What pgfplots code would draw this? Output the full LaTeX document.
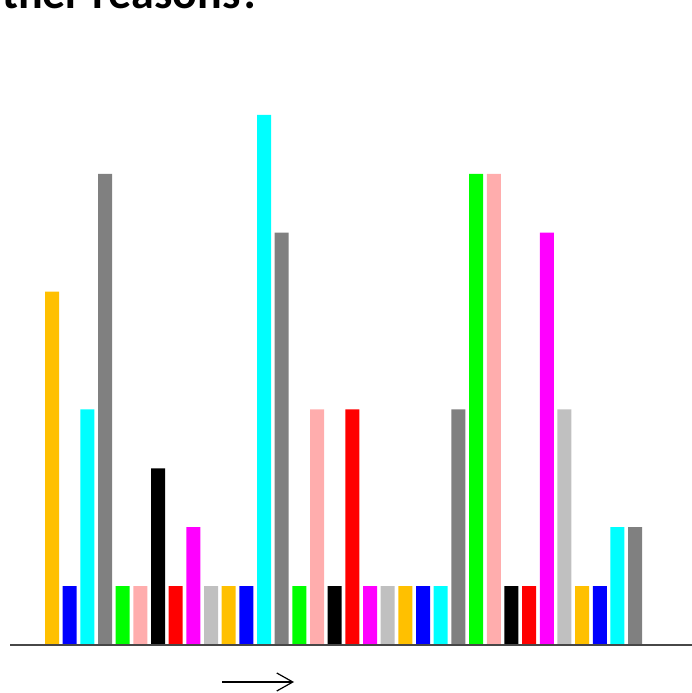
\documentclass[border=0pt]{standalone}
\usepackage{pgfplots}
\pgfplotsset{compat=1.18}
\usepackage{fontspec}
\setmainfont{Carlito}
\usetikzlibrary{arrows.meta}
\definecolor{cOrange}{HTML}{FFC000}
\definecolor{cBlue}{HTML}{0000FF}
\definecolor{cCyan}{HTML}{00FFFF}
\definecolor{cGray}{HTML}{808080}
\definecolor{cGreen}{HTML}{00FF00}
\definecolor{cPink}{HTML}{FFADAD}
\definecolor{cBlack}{HTML}{000000}
\definecolor{cRed}{HTML}{FF0000}
\definecolor{cMagenta}{HTML}{FF00FF}
\definecolor{cSilver}{HTML}{C0C0C0}
\begin{document}
\begin{tikzpicture}[x=1pt,y=1pt]
\useasboundingbox (0,0) rectangle (692,693);
\clip (0,0) rectangle (692,693);
\node[anchor=base east, inner sep=0pt, font=\fontsize{46}{50}\selectfont\bfseries] at (262,684) {ther reasons?};
\begin{axis}[
  at={(10pt,48pt)}, anchor=south west,
  scale only axis, width=682pt, height=645pt,
  xmin=-1.377, xmax=37.22, ymin=0, ymax=10.951,
  axis lines=none, xtick=\empty, ytick=\empty,
  ybar, bar width=14pt, bar shift=0pt,
  clip=false,
]
\addplot[fill=cOrange, draw=none] coordinates {(1,6) (11,1) (21,1) (31,1)};
\addplot[fill=cBlue, draw=none] coordinates {(2,1) (12,1) (22,1) (32,1)};
\addplot[fill=cCyan, draw=none] coordinates {(3,4) (13,9) (23,1) (33,2)};
\addplot[fill=cGray, draw=none] coordinates {(4,8) (14,7) (24,4) (34,2)};
\addplot[fill=cGreen, draw=none] coordinates {(5,1) (15,1) (25,8)};
\addplot[fill=cPink, draw=none] coordinates {(6,1) (16,4) (26,8)};
\addplot[fill=cBlack, draw=none] coordinates {(7,3) (17,1) (27,1)};
\addplot[fill=cRed, draw=none] coordinates {(8,1) (18,4) (28,1)};
\addplot[fill=cMagenta, draw=none] coordinates {(9,2) (19,1) (29,7)};
\addplot[fill=cSilver, draw=none] coordinates {(10,1) (20,1) (30,4)};
\draw[line width=1.8pt, color=black!72] (rel axis cs:0,0) -- (rel axis cs:1,0);
\end{axis}
\draw[line width=1.2pt, -{Straight Barb[length=16pt,width=18pt,line width=1.2pt]}] (222,11) -- (294,11);
\end{tikzpicture}
\end{document}
